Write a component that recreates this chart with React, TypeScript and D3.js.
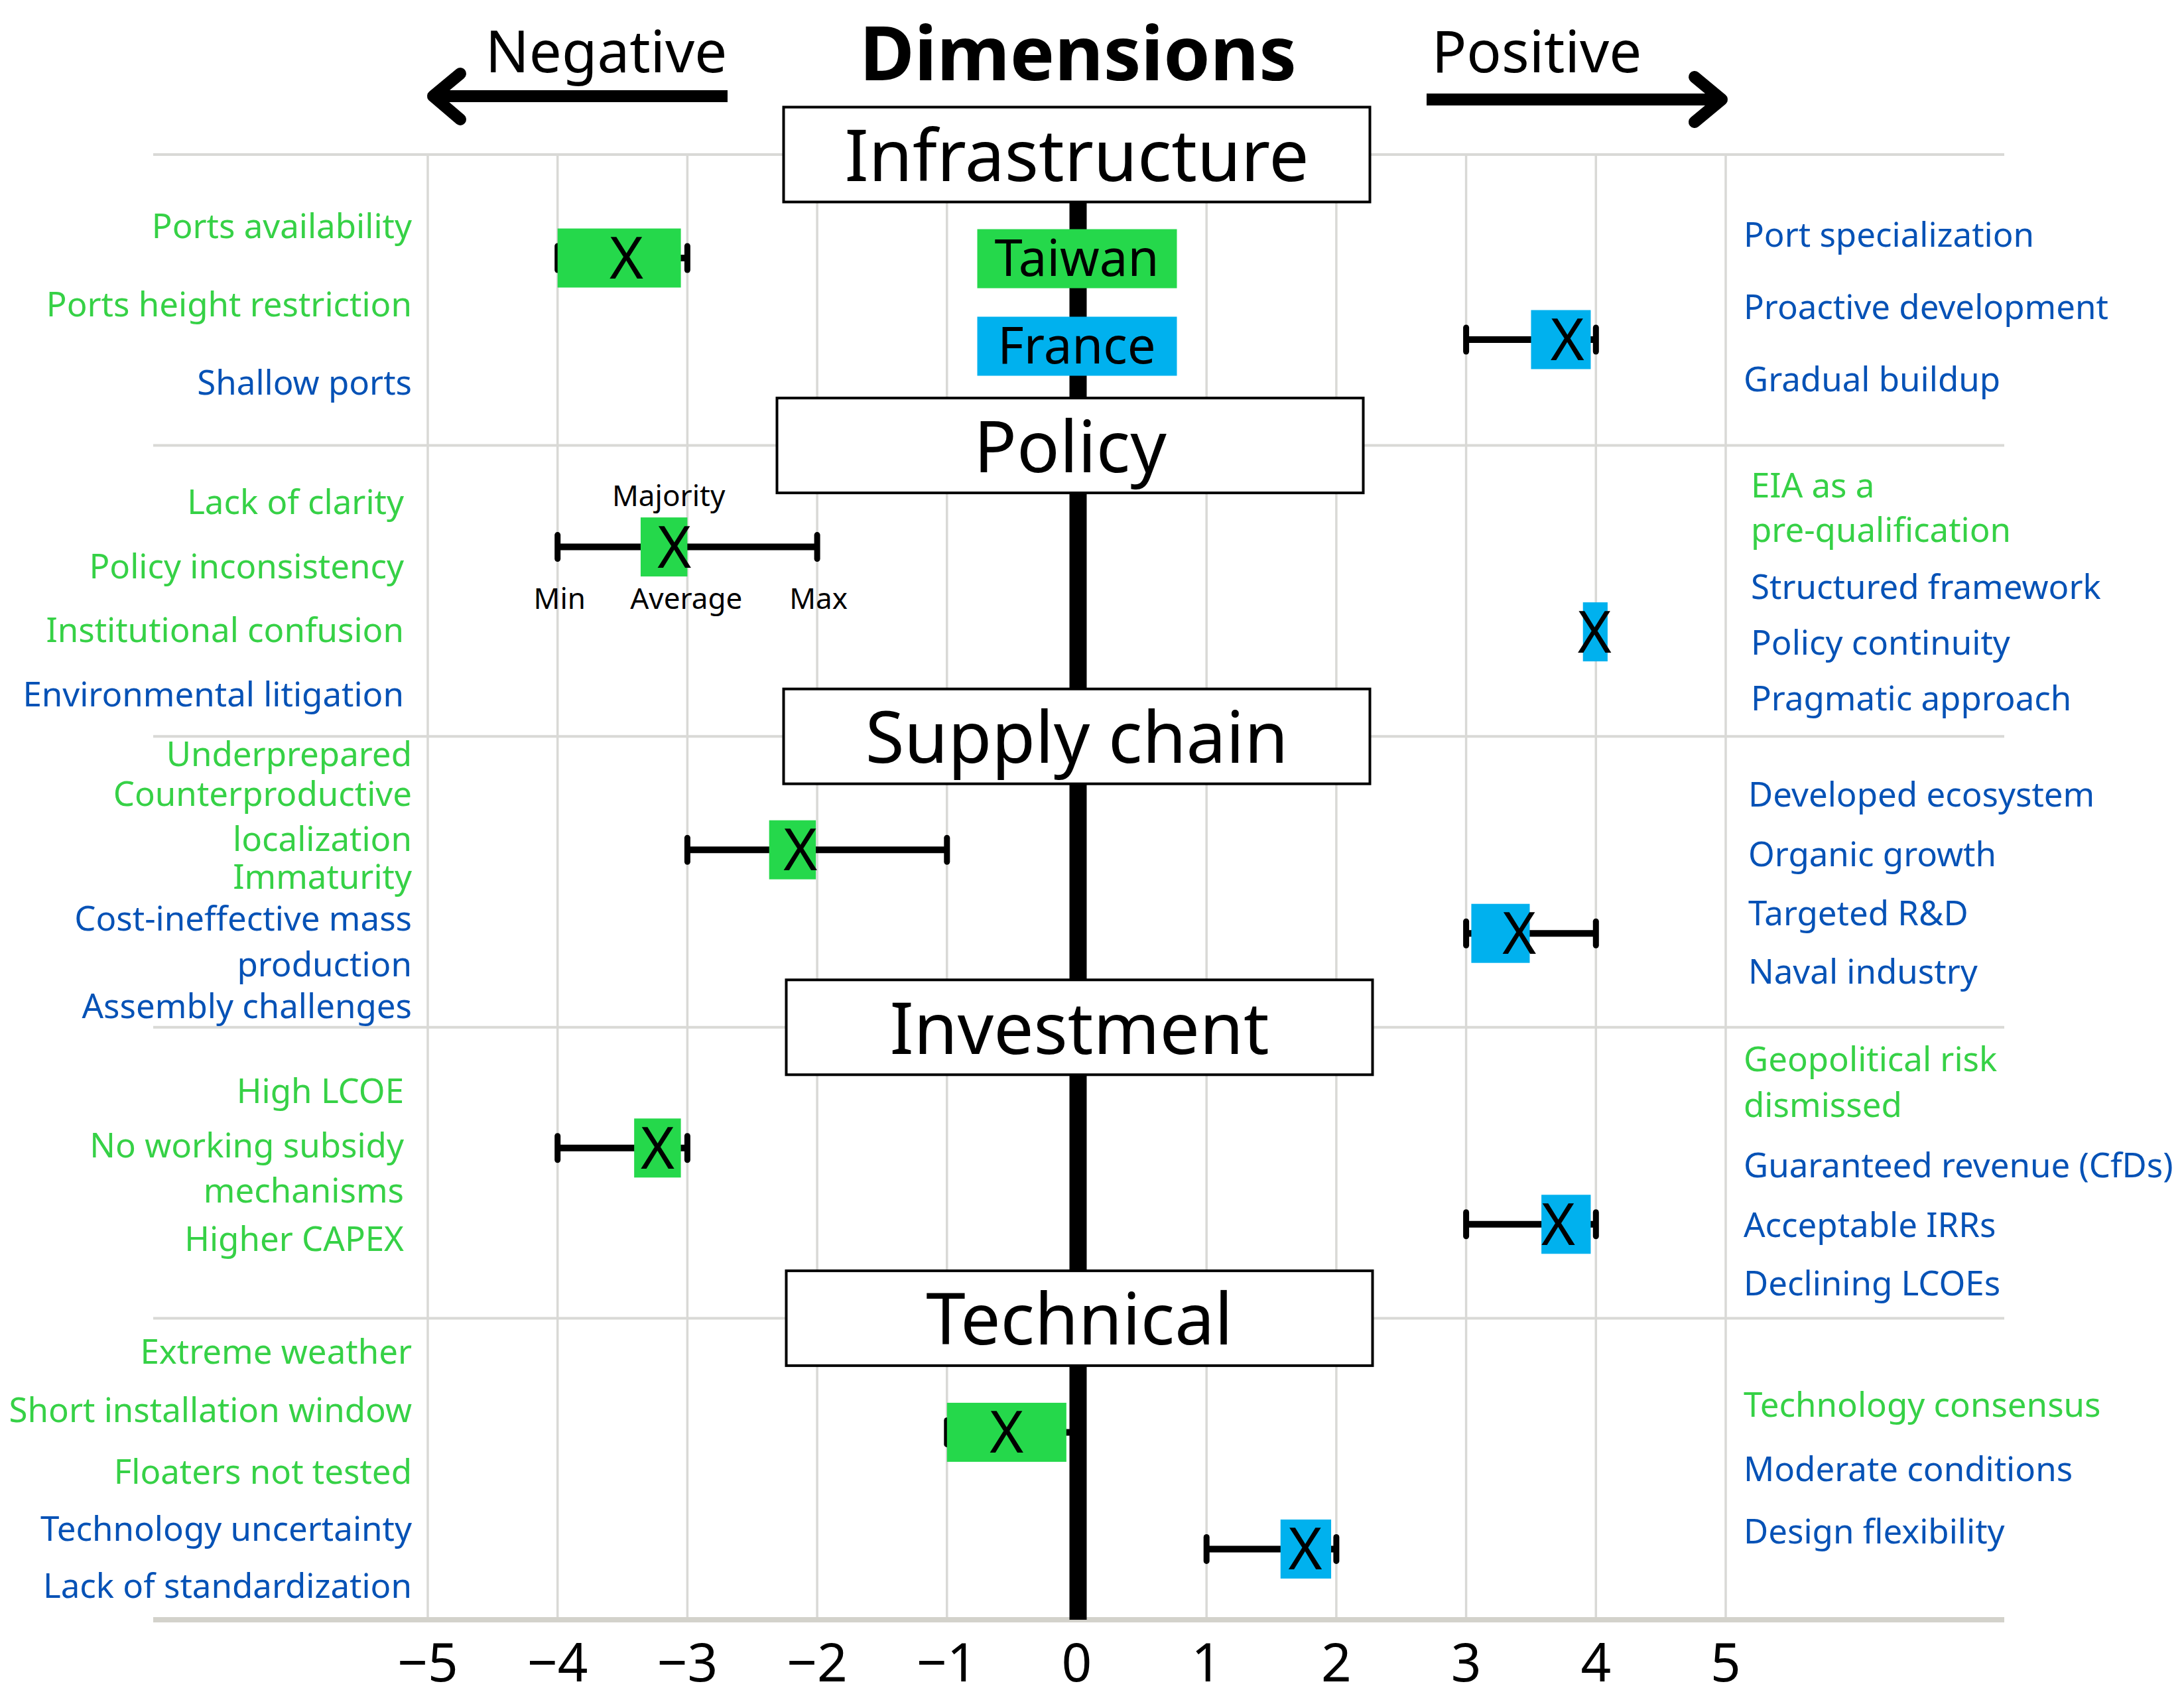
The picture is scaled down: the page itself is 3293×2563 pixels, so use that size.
import React, { useEffect, useRef } from 'react';
import * as d3 from 'd3';

// dimensions, top to bottom
const dimensions = ['Infrastructure', 'Policy', 'Supply chain', 'Investment', 'Technical'];
const countries = ['Taiwan', 'France'];

// score ranges per dimension (min / majority range / average / max)
const taiwanMin = [-4, -4, -3, -4, -1];
const taiwanLow = [-4, -3.36, -2.37, -3.41, -1];
const taiwanAvg = [-3.47, -3.1, -2.13, -3.23, -0.54];
const taiwanHigh = [-3.05, -3, -2.01, -3.05, -0.08];
const taiwanMax = [-3, -2, -1, -3, 0];

const franceMin = [3, 4, 3, 3, 1];
const franceLow = [3.5, 3.9, 3.04, 3.58, 1.57];
const franceAvg = [3.78, 3.99, 3.41, 3.71, 1.76];
const franceHigh = [3.96, 4.09, 3.49, 3.96, 1.96];
const franceMax = [4, 4, 4, 4, 2];

const ticks = [-5, -4, -3, -2, -1, 0, 1, 2, 3, 4, 5];

// negative factors (left) and positive factors (right); tone = which country they belong to
const negativeLabels = [
  ['Ports availability', 'Ports height restriction', 'Shallow ports'],
  ['Lack of clarity', 'Policy inconsistency', 'Institutional confusion', 'Environmental litigation'],
  ['Underprepared', 'Counterproductive', 'localization', 'Immaturity', 'Cost-ineffective mass', 'production', 'Assembly challenges'],
  ['High LCOE', 'No working subsidy', 'mechanisms', 'Higher CAPEX'],
  ['Extreme weather', 'Short installation window', 'Floaters not tested', 'Technology uncertainty', 'Lack of standardization'],
];
const negativeTones = [
  ['tw', 'tw', 'fr'],
  ['tw', 'tw', 'tw', 'fr'],
  ['tw', 'tw', 'tw', 'tw', 'fr', 'fr', 'fr'],
  ['tw', 'tw', 'tw', 'tw'],
  ['tw', 'tw', 'tw', 'fr', 'fr'],
];
const positiveLabels = [
  ['Port specialization', 'Proactive development', 'Gradual buildup'],
  ['EIA as a', 'pre-qualification', 'Structured framework', 'Policy continuity', 'Pragmatic approach'],
  ['Developed ecosystem', 'Organic growth', 'Targeted R&D', 'Naval industry'],
  ['Geopolitical risk', 'dismissed', 'Guaranteed revenue (CfDs)', 'Acceptable IRRs', 'Declining LCOEs'],
  ['Technology consensus', 'Moderate conditions', 'Design flexibility'],
];
const positiveTones = [
  ['fr', 'fr', 'fr'],
  ['tw', 'tw', 'fr', 'fr', 'fr'],
  ['fr', 'fr', 'fr', 'fr'],
  ['tw', 'tw', 'fr', 'fr', 'fr'],
  ['tw', 'fr', 'fr'],
];

// layout: baselines of the factor labels, px below each band's top line
const negativeRows = [
  [126, 244, 362],
  [103, 200, 296, 393],
  [45, 105, 173, 230, 293, 362, 425],
  [114, 196, 264, 337],
  [69, 157, 250, 336, 422],
];
const positiveRows = [
  [139, 248, 357],
  [78, 145, 231, 315, 399],
  [106, 196, 285, 373],
  [66, 135, 226, 316, 404],
  [149, 246, 340],
];
const leftEdge = [621, 609, 621, 609, 621];
const rightEdge = [2629, 2640, 2636, 2629, 2629];
const boxShift = [0, -10, 0, 4, 4];
const taiwanRows = [156, 153, 171, 182, 172];
const franceRows = [279, 281, 297, 297, 348];

const W = 3293;
const H = 2563;
const FONT = "'Noto Sans', 'Open Sans', sans-serif";
const colors = {
  twFill: '#25d84b',
  frFill: '#00b1ee',
  twText: '#36d146',
  frText: '#0652b6',
  grid: '#d9d9d6',
};

const App: React.FC = () => {
  const svgRef = useRef<SVGSVGElement | null>(null);

  useEffect(() => {
    if (!svgRef.current) return;
    const svg = d3.select(svgRef.current);
    svg.selectAll('*').remove();

    const x = d3.scaleLinear().domain([-5, 5]).range([645, 2602]);
    const y = d3.scaleLinear().domain([0, 5]).range([233, 2426]);
    const axisY = 2442;
    const lineLeft = 231;
    const lineRight = 3022;

    svg.append('rect').attr('width', W).attr('height', H).attr('fill', '#fff');

    // vertical gridlines
    svg
      .append('g')
      .selectAll('line')
      .data(ticks)
      .join('line')
      .attr('x1', (d) => x(d))
      .attr('x2', (d) => x(d))
      .attr('y1', y(0))
      .attr('y2', axisY)
      .attr('stroke', colors.grid)
      .attr('stroke-width', 3.5);

    // band separators
    svg
      .append('g')
      .selectAll('line')
      .data(d3.range(dimensions.length))
      .join('line')
      .attr('x1', lineLeft)
      .attr('x2', lineRight)
      .attr('y1', (i) => y(i))
      .attr('y2', (i) => y(i))
      .attr('stroke', colors.grid)
      .attr('stroke-width', 4);

    // bottom axis line + tick labels
    svg
      .append('line')
      .attr('x1', lineLeft)
      .attr('x2', lineRight)
      .attr('y1', axisY)
      .attr('y2', axisY)
      .attr('stroke', '#d3d2cb')
      .attr('stroke-width', 8);

    const fmt = d3.format('d');
    svg
      .append('g')
      .selectAll('text')
      .data(ticks)
      .join('text')
      .attr('x', (d) => x(d))
      .attr('y', 2535)
      .attr('text-anchor', 'middle')
      .attr('font-family', FONT)
      .attr('font-size', 80)
      .attr('fill', '#000')
      .text((d) => fmt(d));

    // centre line
    svg
      .append('line')
      .attr('x1', x(0) + 2)
      .attr('x2', x(0) + 2)
      .attr('y1', y(0))
      .attr('y2', axisY)
      .attr('stroke', '#000')
      .attr('stroke-width', 26);

    // title and direction arrows
    svg
      .append('text')
      .attr('x', x(0) + 2)
      .attr('y', 121)
      .attr('text-anchor', 'middle')
      .attr('font-family', FONT)
      .attr('font-weight', 700)
      .attr('font-size', 113)
      .text('Dimensions');

    svg
      .append('text')
      .attr('x', 914)
      .attr('y', 109)
      .attr('text-anchor', 'middle')
      .attr('font-family', FONT)
      .attr('font-size', 87)
      .text('Negative');
    svg
      .append('text')
      .attr('x', 2317)
      .attr('y', 109)
      .attr('text-anchor', 'middle')
      .attr('font-family', FONT)
      .attr('font-size', 87)
      .text('Positive');

    const arrows = svg.append('g').attr('stroke', '#000').attr('fill', 'none').attr('stroke-width', 18);
    arrows.append('line').attr('x1', 1097).attr('x2', x(-5) + 12).attr('y1', 145).attr('y2', 145);
    arrows
      .append('path')
      .attr('d', `M${x(-5) + 49},111 L${x(-5) + 8},145 L${x(-5) + 49},180`)
      .attr('stroke-linecap', 'round')
      .attr('stroke-linejoin', 'round');
    arrows.append('line').attr('x1', 2151).attr('x2', x(5) - 12).attr('y1', 150).attr('y2', 150);
    arrows
      .append('path')
      .attr('d', `M${x(5) - 47},116 L${x(5) - 6},150 L${x(5) - 47},184`)
      .attr('stroke-linecap', 'round')
      .attr('stroke-linejoin', 'round');

    // dimension boxes, centred on the band lines
    const boxW = 884;
    const boxH = 143;
    const boxes = svg.append('g').selectAll('g').data(dimensions).join('g');
    boxes
      .append('rect')
      .attr('x', (_, i) => x(0) - boxW / 2 + boxShift[i])
      .attr('y', (_, i) => y(i) - boxH / 2)
      .attr('width', boxW)
      .attr('height', boxH)
      .attr('fill', '#fff')
      .attr('stroke', '#000')
      .attr('stroke-width', 4);
    boxes
      .append('text')
      .attr('x', (_, i) => x(0) + boxShift[i])
      .attr('y', (_, i) => y(i) + 40)
      .attr('text-anchor', 'middle')
      .attr('font-family', FONT)
      .attr('font-size', 107)
      .text((d) => d);

    // legend
    const legendFill = [colors.twFill, colors.frFill];
    const legendY = [390, 522];
    const legend = svg.append('g').selectAll('g').data(countries).join('g');
    legend
      .append('rect')
      .attr('x', x(0) - 150)
      .attr('y', (_, i) => legendY[i] - 44.5)
      .attr('width', 301)
      .attr('height', 89)
      .attr('fill', (_, i) => legendFill[i]);
    legend
      .append('text')
      .attr('x', x(0))
      .attr('y', (_, i) => legendY[i] + 26)
      .attr('text-anchor', 'middle')
      .attr('font-family', FONT)
      .attr('font-size', 76)
      .text((d) => d);

    // factor labels
    const toneColor = (t: string) => (t === 'tw' ? colors.twText : colors.frText);
    dimensions.forEach((_, i) => {
      negativeLabels[i].forEach((label, j) => {
        svg
          .append('text')
          .attr('x', leftEdge[i])
          .attr('y', y(i) + negativeRows[i][j])
          .attr('text-anchor', 'end')
          .attr('font-family', FONT)
          .attr('font-size', 51)
          .attr('fill', toneColor(negativeTones[i][j]))
          .text(label);
      });
      positiveLabels[i].forEach((label, j) => {
        svg
          .append('text')
          .attr('x', rightEdge[i])
          .attr('y', y(i) + positiveRows[i][j])
          .attr('text-anchor', 'start')
          .attr('font-family', FONT)
          .attr('font-size', 51)
          .attr('fill', toneColor(positiveTones[i][j]))
          .text(label);
      });
    });

    // range markers
    const series = [
      { fill: colors.twFill, min: taiwanMin, low: taiwanLow, avg: taiwanAvg, high: taiwanHigh, max: taiwanMax, rows: taiwanRows },
      { fill: colors.frFill, min: franceMin, low: franceLow, avg: franceAvg, high: franceHigh, max: franceMax, rows: franceRows },
    ];
    const markH = 89;
    const capH = 36;
    series.forEach((s) => {
      dimensions.forEach((_, i) => {
        const cy = y(i) + s.rows[i];
        const g = svg.append('g');
        g.append('line')
          .attr('x1', x(s.min[i]))
          .attr('x2', x(s.max[i]))
          .attr('y1', cy)
          .attr('y2', cy)
          .attr('stroke', '#000')
          .attr('stroke-width', 10);
        [s.min[i], s.max[i]].forEach((v) => {
          g.append('line')
            .attr('x1', x(v))
            .attr('x2', x(v))
            .attr('y1', cy - capH / 2)
            .attr('y2', cy + capH / 2)
            .attr('stroke', '#000')
            .attr('stroke-width', 9)
            .attr('stroke-linecap', 'round');
        });
        g.append('rect')
          .attr('x', x(s.low[i]))
          .attr('y', cy - markH / 2)
          .attr('width', x(s.high[i]) - x(s.low[i]))
          .attr('height', markH)
          .attr('fill', s.fill);
        g.append('text')
          .attr('x', x(s.avg[i]))
          .attr('y', cy + 31)
          .attr('text-anchor', 'middle')
          .attr('font-family', FONT)
          .attr('font-size', 87)
          .attr('fill', '#000')
          .text('X');
      });
    });

    // how to read a marker (on Taiwan / Policy)
    const ky = y(1) + taiwanRows[1];
    const key = svg.append('g').attr('font-family', FONT).attr('font-size', 44).attr('text-anchor', 'middle');
    key.append('text').attr('x', (x(taiwanLow[1]) + x(taiwanHigh[1])) / 2 + 7).attr('y', ky - 62).text('Majority');
    key.append('text').attr('x', x(taiwanMin[1]) + 3).attr('y', ky + 93).text('Min');
    key.append('text').attr('x', x(taiwanAvg[1]) + 18).attr('y', ky + 93).text('Average');
    key.append('text').attr('x', x(taiwanMax[1]) + 2).attr('y', ky + 93).text('Max');
  }, []);

  return (
    <svg
      ref={svgRef}
      width={W}
      height={H}
      style={{ position: 'absolute', left: 0, top: 0, display: 'block', background: '#fff' }}
    />
  );
};

export default App;
